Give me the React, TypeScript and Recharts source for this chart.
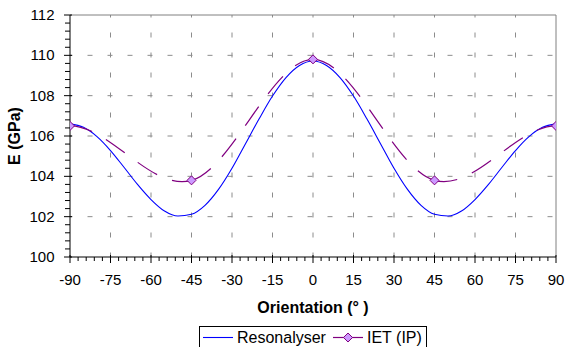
import { LineChart, Line, XAxis, YAxis, ReferenceLine, Label } from 'recharts';

// Resonalyser (continuous) and IET (IP) measurements of E vs orientation
const resAngles = [-90, -85, -80, -75, -70, -65, -60, -55, -50, -45, -40, -35, -30, -25, -20, -15, -10, -5, 0,
  5, 10, 15, 20, 25, 30, 35, 40, 45, 50, 55, 60, 65, 70, 75, 80, 85, 90];
const resValues = [106.6, 106.43, 105.97, 105.28, 104.45, 103.6, 102.85, 102.28, 102.03, 102.12, 102.56, 103.35, 104.4, 105.62, 106.84, 107.98, 108.9, 109.5, 109.72,
  109.5, 108.9, 107.98, 106.84, 105.62, 104.4, 103.35, 102.56, 102.12, 102.03, 102.28, 102.85, 103.6, 104.45, 105.28, 105.97, 106.43, 106.6];

const ietAngles = [-90, -45, 0, 45, 90];
const ietValues = [106.5, 103.8, 109.8, 103.8, 106.5];

const xMajorTicks = [-90, -75, -60, -45, -30, -15, 0, 15, 30, 45, 60, 75, 90];
const yMajorTicks = [100, 102, 104, 106, 108, 110, 112];

const xTicks: number[] = [];
for (let v = -90; v <= 90; v += 3) xTicks.push(v);
const yTicks: number[] = [];
for (let i = 0; i <= 30; i++) yTicks.push(Math.round((100 + i * 0.4) * 10) / 10);

const resData = resAngles.map((angle, i) => ({ angle, res: resValues[i] }));
const ietData = ietAngles.map((angle, i) => ({ angle, iet: ietValues[i] }));

const FONT = '"Liberation Sans", Arial, sans-serif';
const GRID = '#8c8c8c';

// Excel-like smoothed line: cardinal bezier, flat tangents at the ends,
// each segment its own subpath so the dash pattern restarts at every point
function excelSmooth(context: any) {
  let px: number[] = [];
  let py: number[] = [];
  return {
    areaStart() {},
    areaEnd() {},
    lineStart() {
      px = [];
      py = [];
    },
    point(x: number, y: number) {
      px.push(+x);
      py.push(+y);
    },
    lineEnd() {
      const n = px.length;
      if (n === 0) return;
      if (n === 1) {
        context.moveTo(px[0], py[0]);
        return;
      }
      const tx: number[] = [];
      const ty: number[] = [];
      for (let i = 0; i < n; i++) {
        if (i === 0) {
          tx.push((px[1] - px[0]) / 3);
          ty.push(0);
        } else if (i === n - 1) {
          tx.push((px[i] - px[i - 1]) / 3);
          ty.push(0);
        } else {
          tx.push((px[i + 1] - px[i - 1]) / 6);
          ty.push((py[i + 1] - py[i - 1]) / 6);
        }
      }
      for (let i = 0; i < n - 1; i++) {
        context.moveTo(px[i], py[i]);
        context.bezierCurveTo(
          px[i] + tx[i], py[i] + ty[i],
          px[i + 1] - tx[i + 1], py[i + 1] - ty[i + 1],
          px[i + 1], py[i + 1],
        );
      }
    },
  };
}

function diamondPath(cx: number, cy: number, r: number) {
  return `M${cx},${cy - r}L${cx + r},${cy}L${cx},${cy + r}L${cx - r},${cy}Z`;
}

function DiamondDot(props: any) {
  const { cx, cy, index } = props;
  if (cx == null || cy == null) return <g key={`d-${index}`} />;
  return <path key={`d-${index}`} d={diamondPath(cx, cy, 4.5)} fill="#cc99ff" stroke="#800080" strokeWidth={1} />;
}

function XTick({ x, y, payload }: any) {
  const major = payload.value % 15 === 0;
  return (
    <g>
      <line x1={x} x2={x} y1={major ? y - 2 : y} y2={y + (major ? 6 : 4)} stroke="#000" />
      {major && (
        <text x={x} y={y + 28} textAnchor="middle" fontSize={15} fontFamily={FONT} fill="#000">
          {payload.value}
        </text>
      )}
    </g>
  );
}

function YTick({ x, y, payload }: any) {
  const major = payload.value % 2 === 0;
  return (
    <g>
      <line x1={x - (major ? 6 : 5)} x2={x + (major ? 2 : 0)} y1={y} y2={y} stroke="#000" />
      {major && (
        <text x={x - 15.5} y={y + 5} textAnchor="end" fontSize={15} fontFamily={FONT} fill="#000">
          {payload.value}
        </text>
      )}
    </g>
  );
}

export default function App() {
  return (
    <div style={{ position: 'absolute', left: 0, top: 0, width: 566, height: 347, background: '#fff', overflow: 'hidden' }}>
      <LineChart width={566} height={347} margin={{ top: 15, right: 10, left: 10, bottom: 0 }}>
        {yMajorTicks.slice(1, -1).map((v) => (
          <ReferenceLine
            key={`h${v}`}
            segment={[{ x: -90, y: v }, { x: 90, y: v }]}
            stroke={GRID}
            strokeDasharray="5 15"
            strokeDashoffset={2.5}
          />
        ))}
        {xMajorTicks.slice(1, -1).map((v) => (
          <ReferenceLine
            key={`v${v}`}
            segment={[{ x: v, y: 112 }, { x: v, y: 100 }]}
            stroke={GRID}
            strokeDasharray="5 15"
            strokeDashoffset={2.5}
          />
        ))}
        <ReferenceLine segment={[{ x: -90, y: 112 }, { x: 90, y: 112 }]} stroke="#808080" />
        <ReferenceLine segment={[{ x: 90, y: 112 }, { x: 90, y: 100 }]} stroke="#808080" />
        <XAxis
          dataKey="angle"
          type="number"
          domain={[-90, 90]}
          ticks={xTicks}
          interval={0}
          allowDataOverflow
          tickLine={false}
          tickSize={0}
          tickMargin={0}
          height={90}
          axisLine={{ stroke: '#000' }}
          tick={<XTick />}
        >
          <Label
            content={({ viewBox }: any) => (
              <text
                x={viewBox.x + viewBox.width / 2}
                y={viewBox.y + 56}
                textAnchor="middle"
                fontSize={16}
                fontWeight="bold"
                fontFamily={FONT}
                fill="#000"
              >
                Orientation (° )
              </text>
            )}
          />
        </XAxis>
        <YAxis
          type="number"
          domain={[100, 112]}
          ticks={yTicks}
          interval={0}
          allowDataOverflow
          tickLine={false}
          tickSize={0}
          tickMargin={0}
          width={60}
          axisLine={{ stroke: '#000' }}
          tick={<YTick />}
        >
          <Label
            content={({ viewBox }: any) => {
              const cx = viewBox.x + 10;
              const cy = viewBox.y + viewBox.height / 2;
              return (
                <text
                  x={cx}
                  y={cy}
                  transform={`rotate(-90 ${cx} ${cy})`}
                  textAnchor="middle"
                  fontSize={16}
                  fontWeight="bold"
                  fontFamily={FONT}
                  fill="#000"
                >
                  E (GPa)
                </text>
              );
            }}
          />
        </YAxis>
        <Line
          data={resData}
          dataKey="res"
          type="monotone"
          stroke="#0000ff"
          strokeWidth={1.1}
          dot={false}
          activeDot={false}
          isAnimationActive={false}
        />
        <Line
          data={ietData}
          dataKey="iet"
          type={excelSmooth as any}
          stroke="#800080"
          strokeWidth={1.2}
          strokeDasharray="23 16"
          dot={DiamondDot}
          activeDot={false}
          isAnimationActive={false}
        />
      </LineChart>
      <svg width={566} height={347} style={{ position: 'absolute', left: 0, top: 0, pointerEvents: 'none' }}>
        <rect x={199.5} y={326.5} width={227} height={26} fill="#fff" stroke="#000" />
        <line x1={203} x2={233} y1={337.5} y2={337.5} stroke="#0000ff" strokeWidth={1.1} />
        <text x={237} y={343} fontSize={16} fontFamily={FONT} fill="#000">Resonalyser</text>
        <line x1={333} x2={363} y1={337.5} y2={337.5} stroke="#800080" strokeWidth={1.2} />
        <path d={diamondPath(348, 337.5, 4.5)} fill="#cc99ff" stroke="#800080" />
        <text x={367} y={343} fontSize={16} fontFamily={FONT} fill="#000">IET (IP)</text>
      </svg>
    </div>
  );
}
